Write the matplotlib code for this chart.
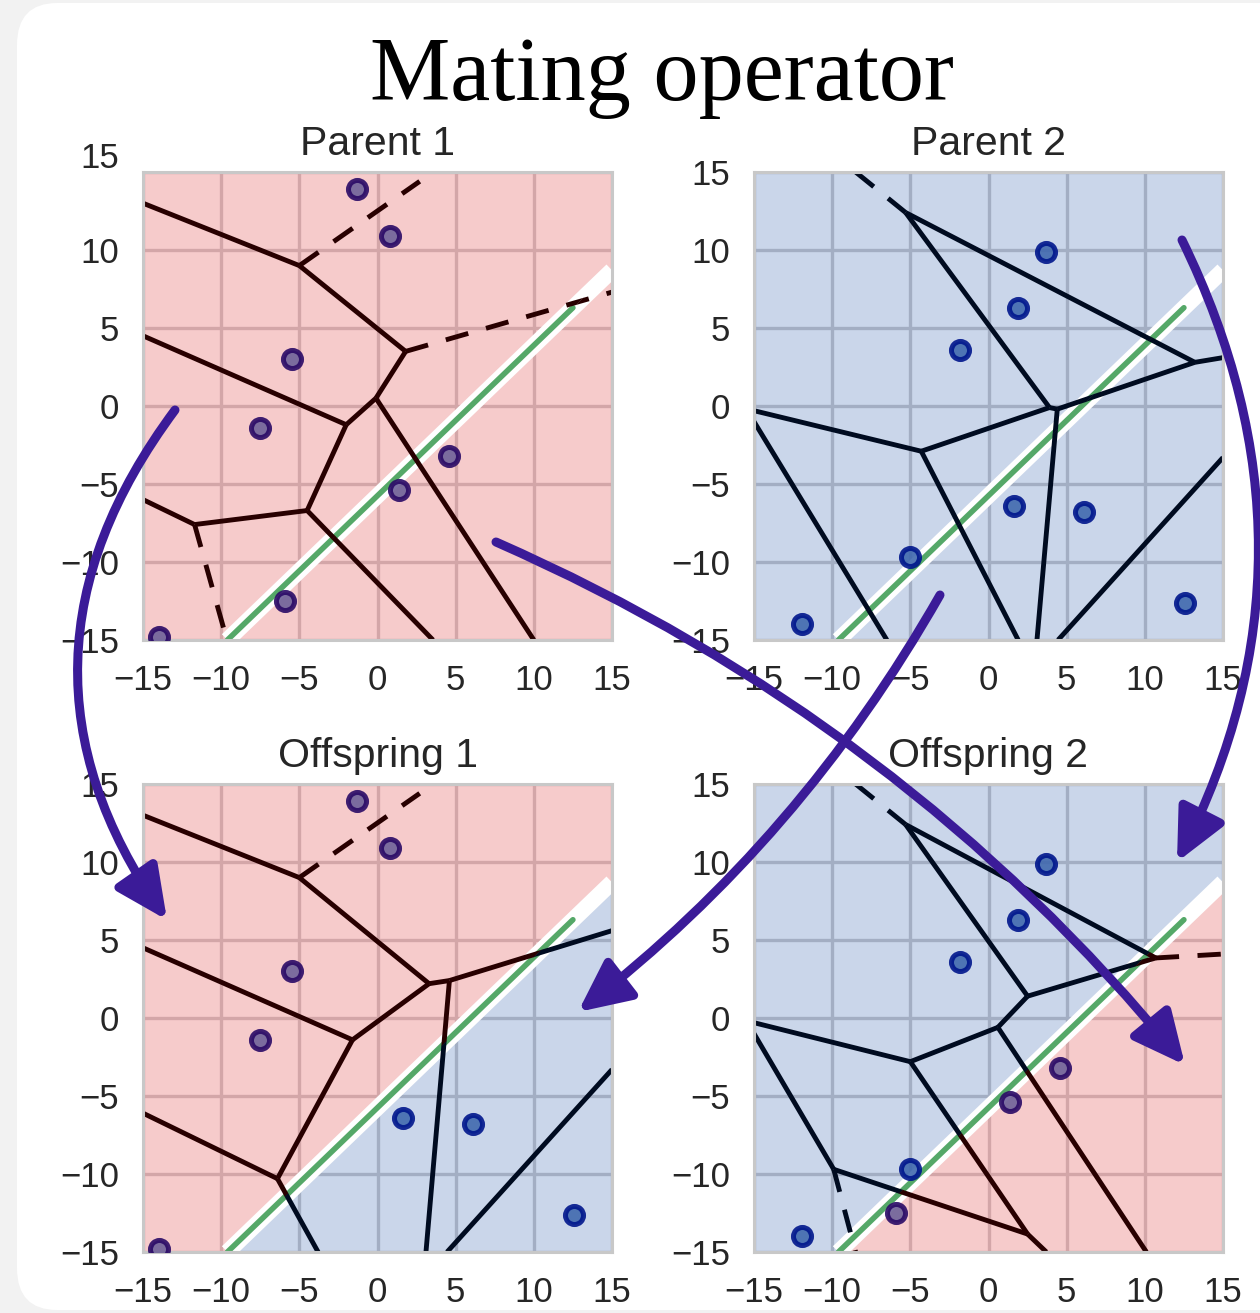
import numpy as np
import matplotlib
matplotlib.use("Agg")
import matplotlib.pyplot as plt
from matplotlib import patches

plt.rcParams['font.family'] = ['Liberation Sans', 'DejaVu Sans']

W, H = 1260, 1313

# seed points of the two parents
parent1_x = [-1.3, 0.8, -5.5, -7.5, 4.6, 1.4, -5.9, -14.0]
parent1_y = [13.9, 10.9, 3.0, -1.4, -3.2, -5.4, -12.5, -14.8]
parent2_x = [3.7, 1.9, -1.8, 1.6, 6.1, -5.0, -11.9, 12.6]
parent2_y = [9.9, 6.3, 3.6, -6.4, -6.8, -9.7, -14.0, -12.6]

# crossover cut line (boundary) and the drawn green part of it
split_x = [-9.6, 15.0]
split_y = [-15.0, 8.7]
cut_x = [-9.6, 12.5]
cut_y = [-15.0, 6.3]

# voronoi edges (x0, y0, x1, y1)
p1_solid = [(-15, 13.0, -5.0, 9.0), (-5.0, 9.0, 1.8, 3.5), (1.8, 3.5, -0.1, 0.5),
            (-15, 4.5, -2.0, -1.2), (-2.0, -1.2, -0.1, 0.5), (-0.1, 0.5, 10.0, -15),
            (-2.0, -1.2, -4.5, -6.7), (-4.5, -6.7, -11.7, -7.6), (-11.7, -7.6, -15, -6.0),
            (-4.5, -6.7, 3.55, -15)]
p1_dashed = [(-5.0, 9.0, 2.7, 14.4), (1.8, 3.5, 15, 7.3), (-11.7, -7.6, -9.8, -14.4)]

p2_solid = [(-5.3, 12.4, 13.2, 2.8), (-5.3, 12.4, 3.9, -0.1), (3.9, -0.1, -4.3, -2.9),
            (3.9, -0.1, 4.4, -0.2), (4.4, -0.2, 13.2, 2.8), (4.4, -0.2, 3.1, -15),
            (-4.3, -2.9, -15, -0.3), (-4.3, -2.9, 1.9, -15), (-15, -1.0, -6.5, -15),
            (15, -3.3, 4.45, -15), (13.2, 2.8, 15, 3.1)]
p2_dashed = [(-8.5, 15, -5.3, 12.4)]

o1_solid = [(-15, 13.0, -5.0, 9.0), (-5.0, 9.0, 3.3, 2.2), (3.3, 2.2, 4.6, 2.4),
            (4.6, 2.4, 15, 5.6), (-15, 4.5, -1.6, -1.4), (3.3, 2.2, -1.6, -1.4),
            (-1.6, -1.4, -6.4, -10.3), (-6.4, -10.3, -15, -6.1), (-6.4, -10.3, -3.8, -15),
            (4.6, 2.4, 3.1, -15), (15, -3.3, 4.45, -15)]
o1_dashed = [(-5.0, 9.0, 2.7, 14.4)]

o2_solid = [(-5.3, 12.4, 10.7, 3.85), (-5.3, 12.4, 2.5, 1.4), (2.5, 1.4, 10.7, 3.85),
            (2.5, 1.4, 0.6, -0.6), (0.6, -0.6, -5.0, -2.8), (-15, -0.3, -5.0, -2.8),
            (-5.0, -2.8, 2.5, -13.85), (0.6, -0.6, 10.1, -15), (-15, -1.0, -9.9, -9.7),
            (-9.9, -9.7, 2.5, -13.85), (2.5, -13.85, 3.7, -15)]
o2_dashed = [(-8.5, 15, -5.3, 12.4), (10.7, 3.85, 15, 4.1), (-9.9, -9.7, -8.5, -15)]

ticks = [-15, -10, -5, 0, 5, 10, 15]

fills = {1: '#f6cbcb', 2: '#cad6ea'}
grid_col = {1: '#d3a6a8', 2: '#a3aec3'}
edge_col = {1: '#280000', 2: '#000b20'}
pt_face = {1: '#6e6299', 2: '#4169ae'}
pt_edge = {1: '#2a0a66', 2: '#00168c'}
ARROW = '#3b1b98'
TXT = '#262626'


def above(x, y):
    slope = (split_y[1] - split_y[0]) / (split_x[1] - split_x[0])
    return np.asarray(y) > split_y[0] + slope * (np.asarray(x) - split_x[0])


def draw_panel(ax, title, top, bottom, solid, dashed):
    ax.set_xlim(-15, 15)
    ax.set_ylim(-15, 15)
    ax.set_facecolor('white')
    upper = patches.Polygon([(-15, -15), (split_x[0], split_y[0]), (split_x[1], split_y[1]),
                             (15, 15), (-15, 15)], closed=True, fc=fills[top], ec='none', zorder=1)
    lower = patches.Polygon([(split_x[0], split_y[0]), (15, -15), (split_x[1], split_y[1])],
                            closed=True, fc=fills[bottom], ec='none', zorder=1)
    ax.add_patch(upper)
    ax.add_patch(lower)
    # grid lines tinted by the region they cross
    for region, cls in [(upper, top), (lower, bottom)]:
        for t in ticks:
            gv, = ax.plot([t, t], [-15, 15], color=grid_col[cls], lw=2.4, zorder=1.5)
            gh, = ax.plot([-15, 15], [t, t], color=grid_col[cls], lw=2.4, zorder=1.5)
            gv.set_clip_path(region)
            gh.set_clip_path(region)
    ax.plot(split_x, split_y, color='white', lw=11.5, zorder=1.6, solid_capstyle='butt')
    ax.plot(cut_x, cut_y, color='#55a868', lw=4.0, zorder=1.7, solid_capstyle='round')
    for segs, ls in [(solid, '-'), (dashed, '--')]:
        for x0, y0, x1, y1 in segs:
            for region, cls in [(upper, top), (lower, bottom)]:
                if ls == '--':
                    ln, = ax.plot([x0, x1], [y0, y1], color=edge_col[cls], lw=3.5,
                                  dashes=(4.8, 3.8), zorder=2)
                else:
                    ln, = ax.plot([x0, x1], [y0, y1], color=edge_col[cls], lw=3.5, zorder=2,
                                  solid_capstyle='butt')
                ln.set_clip_path(region)
    # seed points: upper half from parent "top", lower half from parent "bottom"
    for cls, side in [(top, True), (bottom, False)]:
        px = np.array(parent1_x if cls == 1 else parent2_x)
        py = np.array(parent1_y if cls == 1 else parent2_y)
        m = above(px, py) == side
        ax.plot(px[m], py[m], 'o', ms=13, mew=3.6, mfc=pt_face[cls], mec=pt_edge[cls],
                alpha=0.9, zorder=4, linestyle='none')
    ax.set_xticks(ticks)
    ax.set_yticks(ticks)
    ax.tick_params(length=0, pad=17, labelsize=25, labelcolor=TXT)
    for s in ax.spines.values():
        s.set_color('#c8c8c8')
        s.set_linewidth(2.2)
    ax.set_title(title, fontsize=29.5, pad=12, color=TXT)


def fig_xy(px, py):
    return (px / W, 1 - py / H)


fig = plt.figure(figsize=(W / 100, H / 100), dpi=100, facecolor='#f2f2f2')

bg = patches.FancyBboxPatch((17 / W, 3 / H), (1300 - 17) / W, (1310 - 3) / H,
                            boxstyle="round,pad=0,rounding_size=0.032",
                            transform=fig.transFigure, fc='white', ec='none', zorder=-10)
fig.patches.append(bg)

aw, ah = 469 / W, 468 / H
ax_tl = fig.add_axes([143 / W, 1 - 640 / H, aw, ah])
ax_tr = fig.add_axes([754 / W, 1 - 640 / H, aw, ah])
ax_bl = fig.add_axes([143 / W, 1 - 1252 / H, aw, ah])
ax_br = fig.add_axes([754 / W, 1 - 1252 / H, aw, ah])

draw_panel(ax_tl, 'Parent 1', 1, 1, p1_solid, p1_dashed)
draw_panel(ax_tr, 'Parent 2', 2, 2, p2_solid, p2_dashed)
draw_panel(ax_bl, 'Offspring 1', 1, 2, o1_solid, o1_dashed)
draw_panel(ax_br, 'Offspring 2', 2, 1, o2_solid, o2_dashed)

# the top "15" of Parent 1 sits a bit higher in the original
ax_tl.set_yticks(ticks, labels=['\u221215', '\u221210', '\u22125', '0', '5', '10', ''])
ax_tl.annotate('15', xy=(0, 1), xycoords='axes fraction', xytext=(-17, 12),
               textcoords='offset points', ha='right', va='center_baseline',
               fontsize=25, color=TXT)

fig.text(662 / W, 1 - 100 / H, 'Mating operator', ha='center', va='baseline',
         fontsize=65, family=['Liberation Serif', 'DejaVu Serif'], color='black')

arrows = [((175, 410), (167, 920), 0.36),
          ((496, 542), (1185, 1065), -0.12),
          ((940, 595), (578, 1012), -0.10),
          ((1182, 240), (1177, 862), -0.25)]
for a, b, rad in arrows:
    arr = patches.FancyArrowPatch(fig_xy(*a), fig_xy(*b), transform=fig.transFigure,
                                  connectionstyle="arc3,rad=%s" % rad,
                                  arrowstyle="-|>,head_length=1.05,head_width=0.5",
                                  mutation_scale=30, lw=6.5, color=ARROW,
                                  shrinkA=0, shrinkB=0, zorder=10)
    fig.add_artist(arr)

fig.savefig('out.png', dpi=100, facecolor=fig.get_facecolor())
